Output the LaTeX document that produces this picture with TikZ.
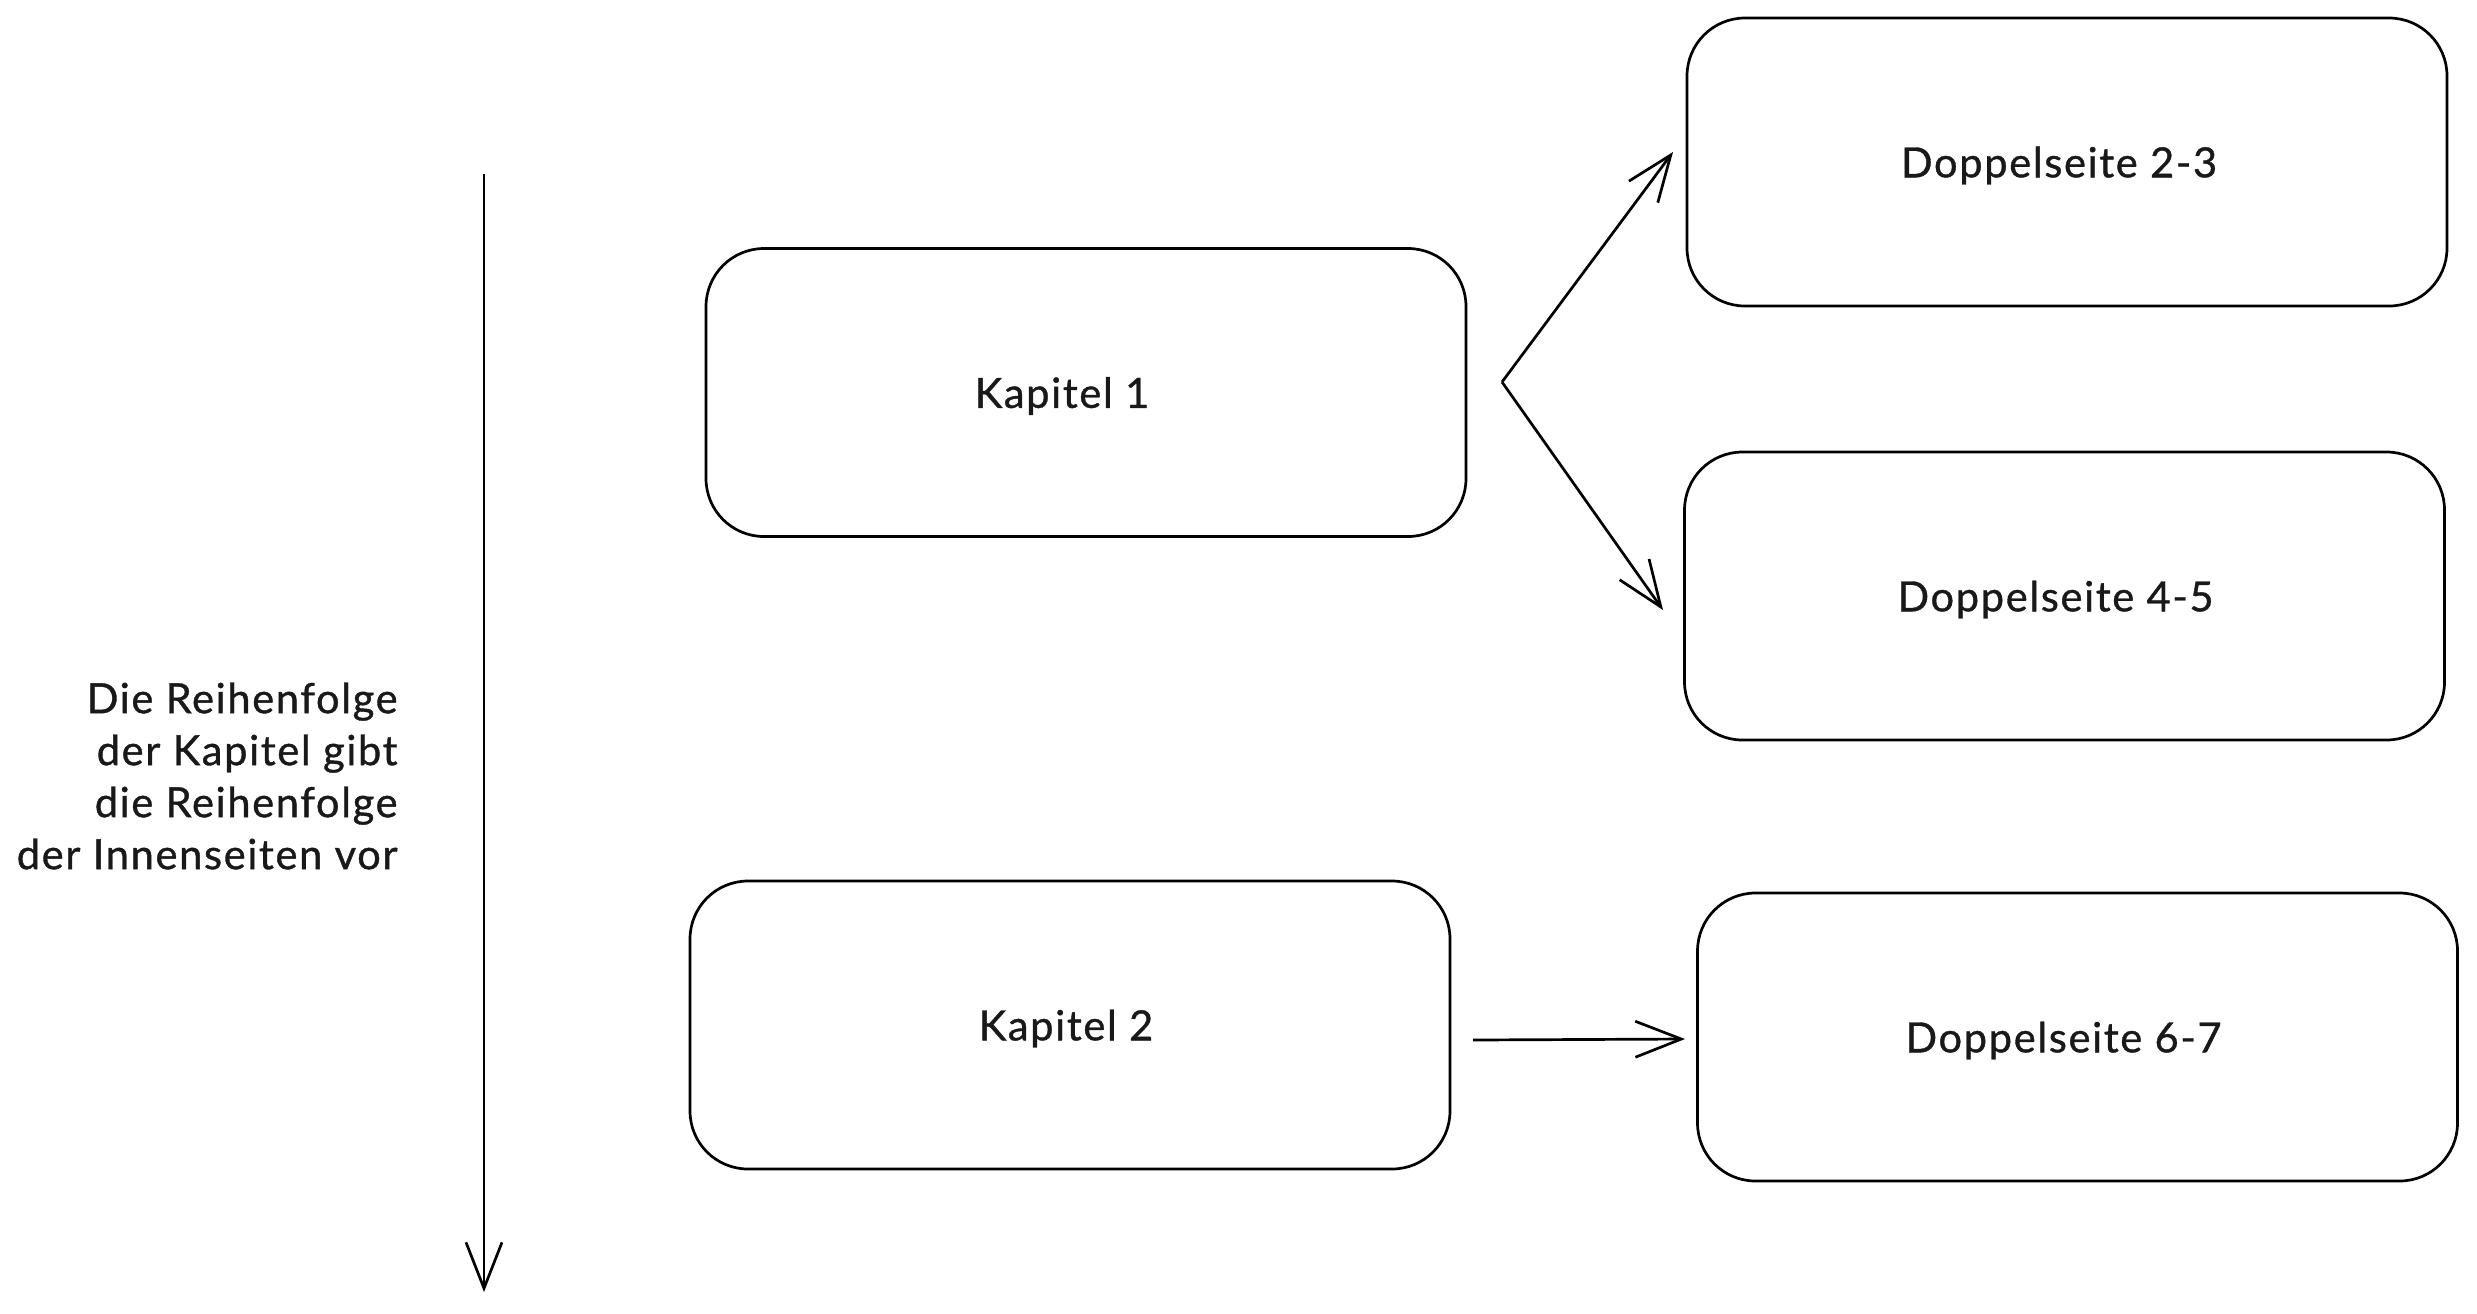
\documentclass[tikz,border=0pt]{standalone}
\usepackage{fontspec}
\setmainfont{Lato}[FakeBold=0.9, LetterSpace=4]
\usetikzlibrary{arrows.meta}
\begin{document}
\begin{tikzpicture}[x=0.5pt,y=-0.5pt,
  box/.style={draw, line width=1.35pt, rounded corners=29pt, minimum width=380pt, minimum height=144pt, inner sep=0pt, font=\fontsize{20.8}{26}\selectfont, text=black!90, text depth=-4pt},
  conn/.style={line width=1.35pt, -{Straight Barb[length=23pt,width=18pt]}},
  note/.style={align=right, inner sep=0pt, font=\fontsize{20.8}{26}\selectfont, text=black!90}]
\useasboundingbox[fill=white] (0,0) rectangle (2477,1313);
\node[box] (k1) at (1086,392.5) {Kapitel 1\hspace*{24pt}};
\node[box] (k2) at (1070,1025) {Kapitel 2\hspace*{4pt}};
\node[box] (d23) at (2067,162) {Doppelseite 2-3\hspace*{8pt}};
\node[box] (d45) at (2064.5,596) {Doppelseite 4-5\hspace*{9pt}};
\node[box] (d67) at (2077.5,1037) {Doppelseite 6-7\hspace*{14pt}};
\node[note, anchor=east] (txt) at (398,776) {Die Reihenfolge\\der Kapitel gibt\\die Reihenfolge\\der Innenseiten vor};
\coordinate (vtop) at (484,174);
\coordinate (vbot) at (484,1292);
\coordinate (s1) at (1502,382);
\coordinate (e23) at (1673,152);
\coordinate (e45) at (1663,610);
\coordinate (s2) at (1473,1040);
\coordinate (e67) at (1685,1039);
\draw[conn] (vtop) -- (vbot);
\draw[conn] (s1) -- (e23);
\draw[conn] (s1) -- (e45);
\draw[conn] (s2) -- (e67);
\end{tikzpicture}
\end{document}
